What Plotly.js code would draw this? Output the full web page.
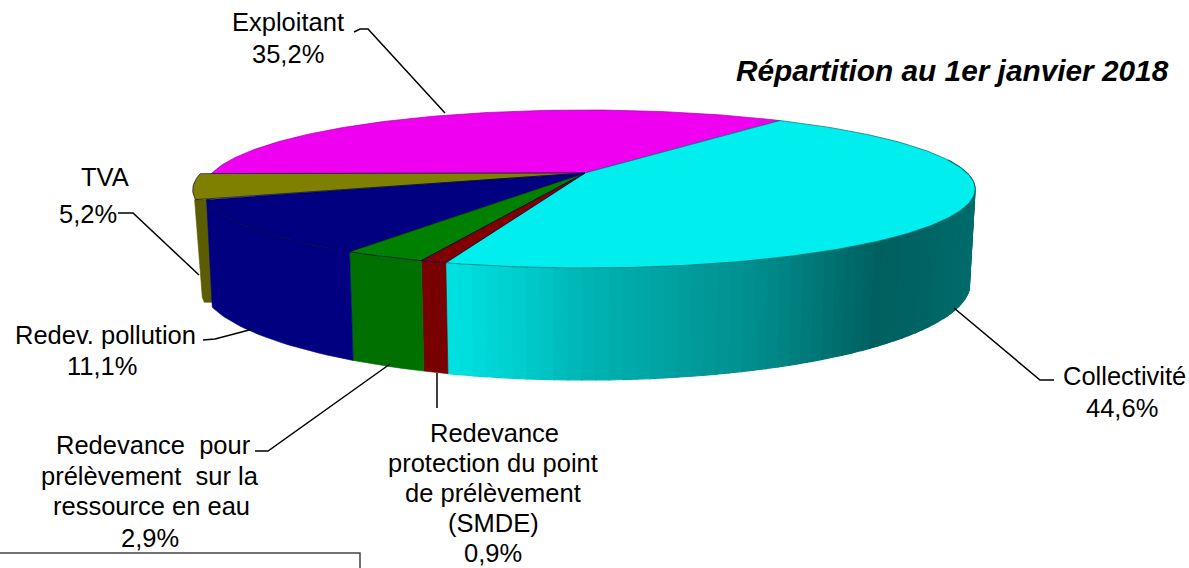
<!DOCTYPE html>
<html><head><meta charset="utf-8">
<script src="https://cdn.plot.ly/plotly-3.0.1.min.js"></script>
<style>html,body{margin:0;padding:0;background:#fff}#c{width:1189px;height:568px}</style></head>
<body><div id="c"></div>
<script>
// Data, in drawing order (clockwise from the back right of the pie)
const categories = ["Collectivité","Redevance protection du point de prélèvement (SMDE)","Redevance pour prélèvement sur la ressource en eau","Redev. pollution","TVA","Exploitant"];
const values = [44.6,0.9,2.9,11.1,5.2,35.2];
const topColors = ["#00eeee","#800000","#008000","#000080","#808000","#f000f0"];
const wallColors = [null,"#780000","#007000","#000080","#5c5c00",null];
const cyanStopX = [447,520,580,640,700,760,800,840,880,930,975];
const cyanStopR = [226,205,182,168,154,140,126,110,96,100,108];
const labelLines = [
 {t:"Exploitant",x:288,y:22},{t:"35,2%",x:288,y:54},
 {t:"TVA",x:105,y:177},{t:"5,2%",x:88,y:214},
 {t:"Redev. pollution",x:105,y:335},{t:"11,1%",x:102,y:366},
 {t:"Redevance\u00a0 pour",x:153,y:445},{t:"prélèvement\u00a0 sur la",x:150,y:476},{t:"ressource en eau",x:151,y:506},{t:"2,9%",x:150,y:538},
 {t:"Redevance",x:494,y:433},{t:"protection du point",x:493,y:463},{t:"de prélèvement",x:493,y:493},{t:"(SMDE)",x:493,y:523},{t:"0,9%",x:493,y:553},
 {t:"Collectivité",x:1124,y:376},{t:"44,6%",x:1122,y:408}
];
const titleText = "Répartition au 1er janvier 2018";

// Projection of the tilted disc
const apexX=585, apexY=173, A=382, B=75.76, k=0.2025;
const botCx=585, botCy=283, botA=385, botB=97, botScale=0.985;
const rad=d=>d*Math.PI/180;
function topPt(phi){ // phi: degrees from the front, positive to the left
  const s=Math.cos(rad(phi)), c=-Math.sin(rad(phi)), w=1-k*s;
  const a=c<0 ? A-9*(1-s*s) : A;
  return [apexX+a*c/w, apexY+B*s/w];
}
function botPt(phi){
  const p=topPt(phi), x=apexX+(p[0]-apexX)*botScale;
  const u=(x-botCx)/botA;
  return [x, botCy+botB*Math.sqrt(Math.max(0,1-u*u))];
}
function range(a,b,step){const r=[];const n=Math.max(2,Math.ceil(Math.abs(b-a)/step)+1);
  for(let i=0;i<n;i++) r.push(a+(b-a)*i/(n-1));return r;}
const total=values.reduce((a,b)=>a+b,0);
const startPhi=-143.6;
const slices=[];let acc=startPhi;
values.forEach(v=>{const d=v/total*360;slices.push([acc,acc+d]);acc+=d;});
const traces=[];
function poly(pts,fill,line,lw){
  traces.push({type:"scatter",mode:"lines",x:pts.map(p=>p[0]),y:pts.map(p=>p[1]),fill:"toself",fillcolor:fill,
    line:{color:line||fill,width:lw===undefined?0.6:lw},hoverinfo:"skip",showlegend:false});
}
function wall(a,b,fill,line,lw){
  const ph=range(a,b,1.5);
  poly(ph.map(topPt).concat(ph.slice().reverse().map(botPt)).concat([topPt(a)]),fill,line,lw);
}
const wallLeft=79, wallRight=-100;
// Olive wall sits behind the blue one, pushed out to the left
(function(){
  const a=slices[4][0], p=topPt(a), q=botPt(a);
  poly([[p[0]-12,p[1]],[p[0]+3,p[1]],[q[0]+3,q[1]-5],[q[0]-8,q[1]-5],[q[0]-10,q[1]-10],[p[0]-12,p[1]]],wallColors[4]);
})();
// Cyan wall, shaded in strips by screen position
function shade(x){
  let i=0; while(i<cyanStopX.length-2 && x>cyanStopX[i+1]) i++;
  const t=Math.min(1,Math.max(0,(x-cyanStopX[i])/(cyanStopX[i+1]-cyanStopX[i])));
  const v=Math.round(cyanStopR[i]+(cyanStopR[i+1]-cyanStopR[i])*t);
  return "rgb(0,"+v+","+v+")";
}
(function(){
  const end=slices[0][1], n=70;
  for(let i=0;i<n;i++){
    const a=end+(wallRight-end)*i/n, b=end+(wallRight-end)*(i+1)/n;
    const c=shade(topPt((a+b)/2)[0]);
    wall(a,b,c,c,1.2);
  }
})();
for(let i=1;i<=3;i++){
  const [a,b]=slices[i];
  wall(a,Math.min(b,wallLeft),wallColors[i]);
}
// Top faces
const order=[5,0,4,3,2,1];
order.forEach(i=>{
  const [a,b]=slices[i];
  const off=i===4?-11:0;
  const arc=range(a,b,1).map(topPt).map(p=>[p[0]+off,p[1]]);
  const pts=[[apexX,apexY]].concat(arc).concat([[apexX,apexY]]);
  poly(pts,topColors[i],i===0?"#006a6a":(i===5?"#a000a0":"#000040"),0.7);
});

const annotations=labelLines.map(l=>({text:l.t,x:l.x,y:l.y,xref:"x",yref:"y",showarrow:false,
  xanchor:"center",yanchor:"middle",font:{family:"Liberation Sans",size:25.5,color:"#000"}}));
annotations.push({text:"<b><i>"+titleText+"</i></b>",x:952.5,y:70,xref:"x",yref:"y",showarrow:false,
  xanchor:"center",yanchor:"middle",font:{family:"Liberation Sans",size:29.8,color:"#000"}});

const leaders=[
 "M354,32 L360,29 L368,29 L445,113",
 "M118,213 L133,213 L199,275",
 "M203,340 L215,339 L253,329",
 "M255,451 L268,451 L390,364",
 "M437,373 L437,408",
 "M954,308 L1040,380 L1054,380"
];
const shapes=leaders.map(p=>({type:"path",path:p,line:{color:"#000",width:1.5},xref:"x",yref:"y"}));
shapes.push({type:"path",path:"M0,553 L360,553 L360,568",line:{color:"#444",width:1.5},xref:"x",yref:"y"});

Plotly.newPlot("c",traces,{
  width:1189,height:568,margin:{l:0,r:0,t:0,b:0},paper_bgcolor:"#fff",plot_bgcolor:"#fff",
  xaxis:{range:[0,1189],visible:false,fixedrange:true},
  yaxis:{range:[568,0],visible:false,fixedrange:true},
  showlegend:false,annotations,shapes,hovermode:false
},{displayModeBar:false,staticPlot:true});
</script></body></html>
